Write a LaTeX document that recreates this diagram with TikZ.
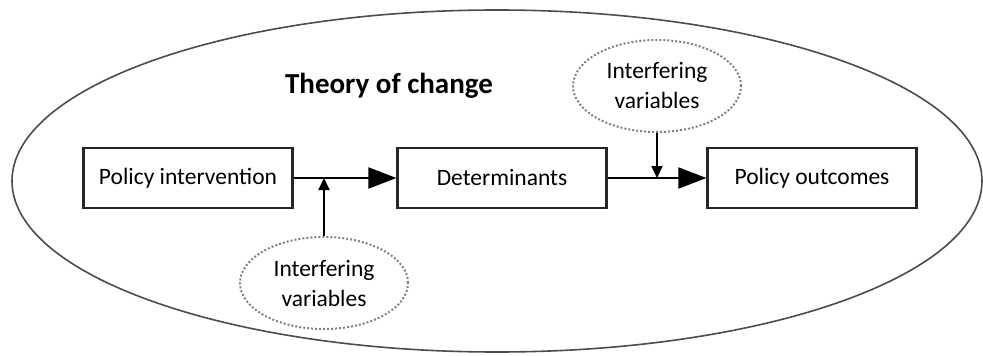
\documentclass[tikz,border=0pt]{standalone}
\usepackage{fontspec}
\setmainfont{Carlito}
\usetikzlibrary{arrows.meta}
\usetikzlibrary{shapes.geometric, calc}

\tikzset{
    stage/.style={draw=black!85, line width=2.2pt, minimum width=209pt, minimum height=60pt, inner sep=0pt, font=\fontsize{23.5}{26}\selectfont},
    interfere/.style={ellipse, draw=gray, dotted, line width=2pt, minimum width=168pt, minimum height=92pt, inner sep=0pt, align=center, font=\fontsize{23.5}{30}\selectfont},
    flow/.style={-{Triangle[length=28pt, width=21pt]}, line width=1.9pt},
    push/.style={-{Triangle[length=12pt, width=11pt]}, line width=1.9pt}
}

\begin{document}
\begin{tikzpicture}[x=1pt, y=-1pt]
            \useasboundingbox (0,0) rectangle (983,356);

            % Le cadre
            \node[ellipse, draw=black!70, line width=1.6pt, minimum width=970pt, minimum height=342pt, inner sep=0pt] (toc) at (497,181) {};
            \node[font=\fontsize{29}{34}\selectfont\bfseries] (title) at (389,86) {Theory of change};

            % Les etapes
            \node[stage] (pi) at (188,178) {Policy intervention};
            \node[stage] (det) at (502,178) {Determinants};
            \node[stage] (po) at (812,178) {Policy outcomes};

            % Variables parasites
            \node[interfere] (ivlow) at (324,283) {Interfering\\variables};
            \node[interfere] (ivhigh) at (657,86) {Interfering\\variables};

            % Fleches
            \draw[flow] (pi) -- (det);
            \draw[flow] (det) -- (po);
            \draw[push] (ivlow.north) -- (ivlow.north |- pi.east);
            \draw[push] (ivhigh.south) -- (ivhigh.south |- det.east);
        \end{tikzpicture}
\end{document}
